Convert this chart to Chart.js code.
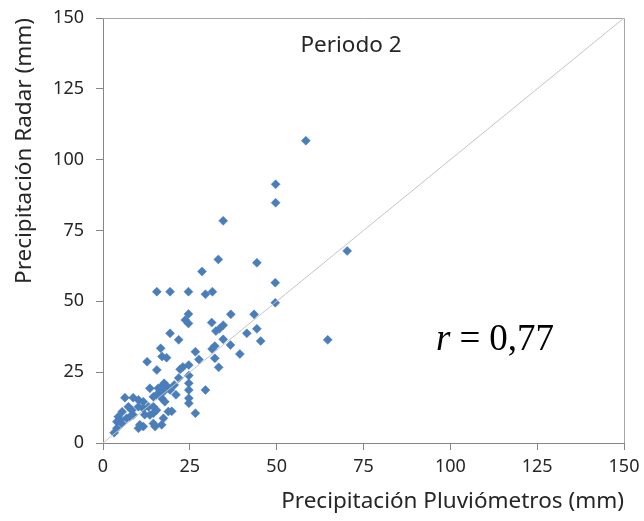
<!DOCTYPE html>
<html>
<head>
<meta charset="utf-8">
<script src="https://cdn.jsdelivr.net/npm/chart.js@4/dist/chart.umd.min.js"></script>
<style>
  html, body { margin: 0; padding: 0; background: #ffffff; }
  #wrap { position: relative; width: 644px; height: 521px; }
</style>
</head>
<body>
<div id="wrap"><canvas id="c" width="644" height="521"></canvas></div>
<script>
// ---- data ----
const gaugeMm = [
  58.4, 49.7, 49.7, 34.6, 70.3, 33.2, 44.3, 28.5, 49.6, 15.5,
  19.3, 24.6, 29.5, 31.5, 49.6, 24.6, 23.7, 24.6, 36.8, 43.5,
  31.3, 34.6, 33.5, 32.5, 44.3, 41.4, 19.3, 21.8, 34.6, 45.4,
  64.7, 32.2, 31.4, 36.7, 16.6, 17.0, 18.3, 26.6, 39.4, 27.6,
  12.7, 15.5, 24.7, 32.2, 33.3, 22.2, 23.0, 21.8, 24.7, 24.7,
  24.7, 24.7, 24.7, 26.6, 29.5, 13.5, 15.9, 16.9, 17.4, 16.4,
  15.4, 14.5, 16.9, 17.8, 18.8, 19.8, 6.3, 8.7, 10.2, 11.6,
  7.3, 8.3, 10.2, 11.6, 13.1, 14.5, 13.5, 14.5, 15.4, 4.4,
  4.9, 4.0, 5.4, 6.8, 7.8, 8.7, 10.6, 10.2, 11.6, 14.5,
  15.0, 16.9, 17.4, 4.0, 3.2, 17.6, 18.4, 19.3, 20.5, 21.0,
  12.0, 5.5
];
const radarMm = [
  106.7, 91.3, 84.8, 78.4, 67.8, 64.8, 63.6, 60.5, 56.6, 53.4,
  53.4, 53.4, 52.5, 53.4, 49.5, 45.5, 43.4, 42.2, 45.4, 45.4,
  42.5, 41.6, 40.3, 39.5, 40.3, 38.7, 38.7, 36.4, 36.6, 36.0,
  36.4, 34.2, 33.2, 34.6, 33.4, 30.5, 30.1, 32.2, 31.4, 29.5,
  28.7, 25.8, 27.5, 29.9, 26.7, 26.0, 26.8, 22.9, 23.8, 21.1,
  18.7, 15.8, 14.0, 10.5, 18.7, 19.3, 19.3, 19.9, 18.1, 17.5,
  16.9, 16.3, 15.8, 14.6, 11.1, 11.2, 16.0, 16.0, 15.2, 14.6,
  12.8, 11.6, 12.8, 12.2, 12.8, 12.8, 9.9, 10.5, 11.6, 9.3,
  8.1, 7.5, 6.9, 8.7, 9.3, 9.9, 6.4, 5.2, 5.8, 6.9,
  5.8, 6.4, 8.7, 5.2, 3.6, 21.1, 20.0, 18.7, 20.5, 17.0,
  10.0, 11.0
];
const identityX = [0, 150];
const identityY = [0, 150];
const tickValues = [0, 25, 50, 75, 100, 125, 150];
const xTitle = 'Precipitación Pluviómetros (mm)';
const yTitle = 'Precipitación Radar (mm)';
const panelTitle = 'Periodo 2';
const rValue = '0,77';

// ---- build ----
const points = gaugeMm.map((x, i) => ({ x: x, y: radarMm[i] }));
const linePts = identityX.map((x, i) => ({ x: x, y: identityY[i] }));

const textFont = "'Noto Sans', 'Open Sans', sans-serif";
const textColor = '#262626';

const boxPlugin = {
  id: 'boxAndLabels',
  beforeDatasetsDraw(chart) {
    const a = chart.chartArea, ctx = chart.ctx;
    ctx.save();
    ctx.strokeStyle = '#a6a6a6';
    ctx.lineWidth = 1;
    ctx.beginPath();
    ctx.moveTo(a.left, a.top + 0.5);
    ctx.lineTo(a.right + 0.5, a.top + 0.5);
    ctx.lineTo(a.right + 0.5, a.bottom);
    ctx.stroke();
    ctx.restore();
  },
  afterDraw(chart) {
    const ctx = chart.ctx;
    ctx.save();
    ctx.fillStyle = '#262626';
    ctx.textBaseline = 'alphabetic';
    ctx.font = "22.5px " + textFont;
    ctx.textAlign = 'center';
    ctx.fillText(panelTitle, 351, 52);
    // r = 0,77
    ctx.fillStyle = '#000000';
    ctx.textAlign = 'left';
    let x = 436;
    ctx.font = "italic 37px 'Liberation Serif', 'DejaVu Serif', serif";
    ctx.fillText('r', x, 350);
    x += ctx.measureText('r').width + 9;
    ctx.font = "37px 'Liberation Serif', 'DejaVu Serif', serif";
    ctx.fillText('=', x, 350);
    x += ctx.measureText('=').width + 9;
    ctx.fillText(rValue, x, 350);
    ctx.restore();
  }
};

const axisCommon = (titleText, isX) => ({
  type: 'linear',
  min: 0,
  max: 150,
  afterBuildTicks(scale) { scale.ticks = tickValues.map(v => ({ value: v })); },
  grid: {
    drawOnChartArea: false,
    drawTicks: true,
    tickLength: 7,
    color: '#868686',
    tickColor: '#868686'
  },
  border: { display: true, color: '#868686', width: 1 },
  ticks: {
    color: textColor,
    font: { family: textFont, size: 18 },
    padding: isX ? 6 : 12,
    maxRotation: 0,
    autoSkip: false
  },
  title: {
    display: true,
    text: titleText,
    align: 'end',
    color: textColor,
    font: { family: textFont, size: 22.5 },
    padding: isX ? { top: 0, bottom: 6 } : { top: 11, bottom: 0 }
  }
});

const xScale = axisCommon(xTitle, true);
xScale.afterFit = s => { s.height = 78; s.paddingLeft = 0; s.paddingRight = 0; };
const yScale = axisCommon(yTitle, false);
yScale.afterFit = s => { s.width = 103; s.paddingTop = 0; s.paddingBottom = 0; };

new Chart(document.getElementById('c'), {
  type: 'scatter',
  data: {
    datasets: [
      {
        type: 'line',
        label: '1:1',
        data: linePts,
        borderColor: '#c4c4c4',
        borderWidth: 1,
        pointRadius: 0,
        fill: false,
        order: 0
      },
      {
        label: 'Periodo 2',
        data: points,
        pointStyle: 'rectRot',
        pointRadius: 4.5,
        pointBorderWidth: 0.5,
        backgroundColor: '#4a7ebb',
        borderColor: '#4a7ebb',
        order: 1
      }
    ]
  },
  options: {
    responsive: false,
    animation: false,
    devicePixelRatio: 1,
    layout: { padding: { top: 18, right: 20, left: 0, bottom: 0 } },
    plugins: { legend: { display: false }, tooltip: { enabled: false } },
    scales: { x: xScale, y: yScale }
  },
  plugins: [boxPlugin]
});
</script>
</body>
</html>
